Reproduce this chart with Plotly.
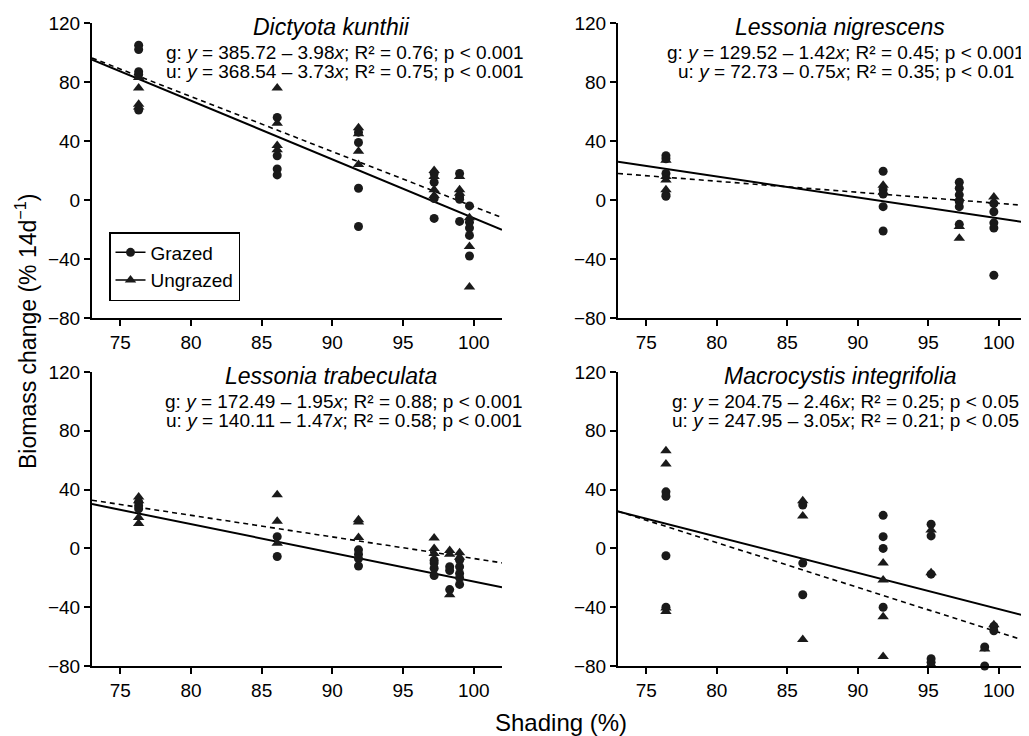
import plotly.graph_objects as go

# ---------------- data ----------------
TITLES = ["Dictyota kunthii", "Lessonia nigrescens", "Lessonia trabeculata", "Macrocystis integrifolia"]
X_TICKS = [75, 80, 85, 90, 95, 100]
Y_TICKS = [-80, -40, 0, 40, 80, 120]

# Dictyota kunthii
DK_G_X = [76.3, 76.3, 76.3, 76.3, 76.3, 86.1, 86.1, 86.1, 86.1, 91.85, 91.85, 91.85, 91.85,
          97.2, 97.2, 97.2, 97.2, 99.0, 99.0, 99.0, 99.0, 99.7, 99.7, 99.7, 99.7, 99.7]
DK_G_Y = [105, 102, 87, 85, 61, 56, 30, 21, 17, 46, 39, 8, -18,
          18, 12, 1, -12.5, 18, 2, 0.5, -14.5, -4, -15, -19, -24, -38]
DK_U_X = [76.3, 76.3, 76.3, 76.3, 86.1, 86.1, 86.1, 86.1, 91.85, 91.85, 91.85, 91.85,
          97.2, 97.2, 97.2, 97.2, 99.0, 99.0, 99.0, 99.7, 99.7, 99.7]
DK_U_Y = [83, 76, 65, 63, 76, 52, 37, 34, 49, 45, 33, 24,
          20, 16, 7, 3, 16, 7, 4.5, -12, -31.5, -59]

# Lessonia nigrescens
LN_G_X = [76.4, 76.4, 76.4, 76.4, 76.4, 91.8, 91.8, 91.8, 91.8, 91.8,
          97.2, 97.2, 97.2, 97.2, 97.2, 97.2, 99.65, 99.65, 99.65, 99.65, 99.65]
LN_G_Y = [30, 28, 18, 3.5, 2.5, 19.5, 7, 4, -4.5, -21,
          12, 8, 3.5, -1, -4.5, -16.5, -2.5, -8, -15.5, -19, -51]
LN_U_X = [76.4, 76.4, 76.4, 76.4, 91.8, 91.8, 97.2, 97.2, 97.2, 99.65, 99.65]
LN_U_Y = [27, 16, 13.5, 7, 10, 5.5, 1, -18, -26, 2, -1]

# Lessonia trabeculata
LT_G_X = [76.3, 76.3, 76.3, 86.1, 86.1, 91.85, 91.85, 91.85, 91.85, 97.2, 97.2, 97.2, 97.2,
          98.3, 98.3, 98.3, 99.0, 99.0, 99.0, 99.0, 99.0]
LT_G_Y = [31.5, 29, 27, 8, -5.5, -1, -4, -7, -12, -8, -10, -13.5, -18.5,
          -12.5, -15, -28, -8, -12.5, -17, -20, -24.5]
LT_U_X = [76.3, 76.3, 76.3, 76.3, 86.1, 86.1, 86.1, 91.85, 91.85, 91.85, 97.2, 97.2, 97.2,
          98.3, 98.3, 98.3, 99.0, 99.0]
LT_U_Y = [35, 32.5, 21, 17, 36.5, 18.5, 3.5, 19.5, 18, 7.5, 7, 0, -3.5,
          -1.5, -4, -31.5, -3, -6]

# Macrocystis integrifolia
MI_G_X = [76.4, 76.4, 76.4, 76.4, 86.1, 86.1, 86.1, 91.8, 91.8, 91.8, 91.8,
          95.2, 95.2, 95.2, 95.2, 95.2, 99.0, 99.0, 99.65, 99.65]
MI_G_Y = [38.5, 35.5, -5, -40, 29.5, -10, -31.5, 22.5, 8, 0, -40,
          16.5, 8.5, -17.5, -75, -77.5, -67, -80, -53, -56]
MI_U_X = [76.4, 76.4, 76.4, 76.4, 86.1, 86.1, 86.1, 91.8, 91.8, 91.8, 91.8,
          95.2, 95.2, 95.2, 99.0, 99.65]
MI_U_Y = [66.5, 57.5, -40.5, -43, 32.5, 22, -62, -10, -21.5, -46.5, -73.5,
          12.5, -16.5, -79, -68.5, -52]

# regression results (grazed / ungrazed)
G_INT = [385.72, 129.52, 172.49, 204.75]
G_SLOPE = [3.98, 1.42, 1.95, 2.46]
G_R2 = [0.76, 0.45, 0.88, 0.25]
G_P = ["0.001", "0.001", "0.001", "0.05"]
U_INT = [368.54, 72.73, 140.11, 247.95]
U_SLOPE = [3.73, 0.75, 1.47, 3.05]
U_R2 = [0.75, 0.35, 0.58, 0.21]
U_P = ["0.001", "0.01", "0.001", "0.05"]

X_RANGE = [73, 102]
Y_RANGE = [-80, 120]

# ---------------- figure ----------------
# page body has an 8px default margin, so the figure is shrunk and shifted
OFF = 8
W, H = 1029 - OFF, 736 - OFF
FONT = "Liberation Sans, Arial, Helvetica, sans-serif"

GRAZED = [(DK_G_X, DK_G_Y), (LN_G_X, LN_G_Y), (LT_G_X, LT_G_Y), (MI_G_X, MI_G_Y)]
UNGRAZED = [(DK_U_X, DK_U_Y), (LN_U_X, LN_U_Y), (LT_U_X, LT_U_Y), (MI_U_X, MI_U_Y)]

# panel pixel boxes in window pixels: (left, right, top, bottom)
BOXES = [(92, 502, 23, 318), (618, 1027, 23, 318), (92, 502, 372, 666), (618, 1027, 372, 666)]
TITLE_CX = [331, 840, 331, 840]
EQ_CX = [345, 846, 344, 845]

fig = go.Figure()
layout = dict(
    width=W, height=H, margin=dict(l=0, r=0, t=0, b=0),
    paper_bgcolor="white", plot_bgcolor="white",
    font=dict(family=FONT, size=19, color="black"),
    showlegend=True,
)

def px(x):
    return (x - OFF) / W

def py(y):
    return (H - (y - OFF)) / H

annotations = []
for i in range(4):
    xa = "x" if i == 0 else f"x{i+1}"
    ya = "y" if i == 0 else f"y{i+1}"
    l, r, t, b = BOXES[i]
    ax_common = dict(showgrid=False, zeroline=False, showline=True, linecolor="black", linewidth=2,
                     ticks="outside", ticklen=6, tickwidth=2, tickcolor="black",
                     tickfont=dict(family=FONT, size=19, color="black"), automargin=False)
    layout["xaxis" if i == 0 else f"xaxis{i+1}"] = dict(
        domain=[px(l), min(px(r), 1.0)], range=X_RANGE, tickvals=X_TICKS, anchor=ya, **ax_common)
    layout["yaxis" if i == 0 else f"yaxis{i+1}"] = dict(
        domain=[py(b), py(t)], range=Y_RANGE, tickvals=Y_TICKS, anchor=xa, **ax_common)

    # regression lines
    gy = [G_INT[i] - G_SLOPE[i] * xv for xv in X_RANGE]
    uy = [U_INT[i] - U_SLOPE[i] * xv for xv in X_RANGE]
    fig.add_trace(go.Scatter(x=X_RANGE, y=uy, mode="lines", xaxis=xa, yaxis=ya,
                             line=dict(color="black", width=1.6, dash="5px,4px"), showlegend=False))
    fig.add_trace(go.Scatter(x=X_RANGE, y=gy, mode="lines", xaxis=xa, yaxis=ya,
                             line=dict(color="black", width=2), showlegend=False))
    # points
    gx_, gy_ = GRAZED[i]
    ux_, uy_ = UNGRAZED[i]
    fig.add_trace(go.Scatter(x=gx_, y=gy_, mode="markers", xaxis=xa, yaxis=ya, cliponaxis=False,
                             marker=dict(symbol="circle", size=9, color="#1a1a1a"), showlegend=False))
    fig.add_trace(go.Scatter(x=ux_, y=uy_, mode="markers", xaxis=xa, yaxis=ya, cliponaxis=False,
                             marker=dict(symbol="triangle-up", size=10, color="#1a1a1a"), showlegend=False))

    # titles and equations
    annotations.append(dict(text=f"<i>{TITLES[i]}</i>", x=px(TITLE_CX[i]), y=py(t + 4),
                            xref="paper", yref="paper", xanchor="center", yanchor="middle",
                            showarrow=False, font=dict(family=FONT, size=23, color="black")))
    gtxt = (f"g: <i>y</i> = {G_INT[i]:.2f} – {G_SLOPE[i]:.2f}<i>x</i>; "
            f"R² = {G_R2[i]:.2f}; p &lt; {G_P[i]}")
    utxt = (f"u: <i>y</i> = {U_INT[i]:.2f} – {U_SLOPE[i]:.2f}<i>x</i>; "
            f"R² = {U_R2[i]:.2f}; p &lt; {U_P[i]}")
    annotations.append(dict(text=gtxt, x=px(EQ_CX[i]), y=py(t + 29),
                            xref="paper", yref="paper", xanchor="center", yanchor="middle",
                            showarrow=False, font=dict(family=FONT, size=19, color="black")))
    annotations.append(dict(text=utxt, x=px(EQ_CX[i]), y=py(t + 48),
                            xref="paper", yref="paper", xanchor="center", yanchor="middle",
                            showarrow=False, font=dict(family=FONT, size=19, color="black")))

# legend entries
fig.add_trace(go.Scatter(x=[None], y=[None], mode="lines+markers", name="Grazed",
                         line=dict(color="black", width=1.5),
                         marker=dict(symbol="circle", size=9, color="#1a1a1a")))
fig.add_trace(go.Scatter(x=[None], y=[None], mode="lines+markers", name="Ungrazed",
                         line=dict(color="black", width=1.5),
                         marker=dict(symbol="triangle-up", size=10, color="#1a1a1a")))

# axis titles
annotations.append(dict(text="Biomass change (% 14d<sup>−1</sup>)", x=px(26), y=py(332),
                        xref="paper", yref="paper", xanchor="center", yanchor="middle",
                        textangle=-90, showarrow=False, font=dict(family=FONT, size=23, color="black")))
annotations.append(dict(text="Shading (%)", x=px(561), y=py(722),
                        xref="paper", yref="paper", xanchor="center", yanchor="middle",
                        showarrow=False, font=dict(family=FONT, size=24, color="black")))

layout["annotations"] = annotations
layout["legend"] = dict(x=px(109), y=py(232), xanchor="left", yanchor="top",
                        bordercolor="black", borderwidth=1.5, bgcolor="white",
                        font=dict(family=FONT, size=19, color="black"),
                        itemwidth=30, tracegroupgap=0)
fig.update_layout(**layout)
fig.write_html("out.html")
